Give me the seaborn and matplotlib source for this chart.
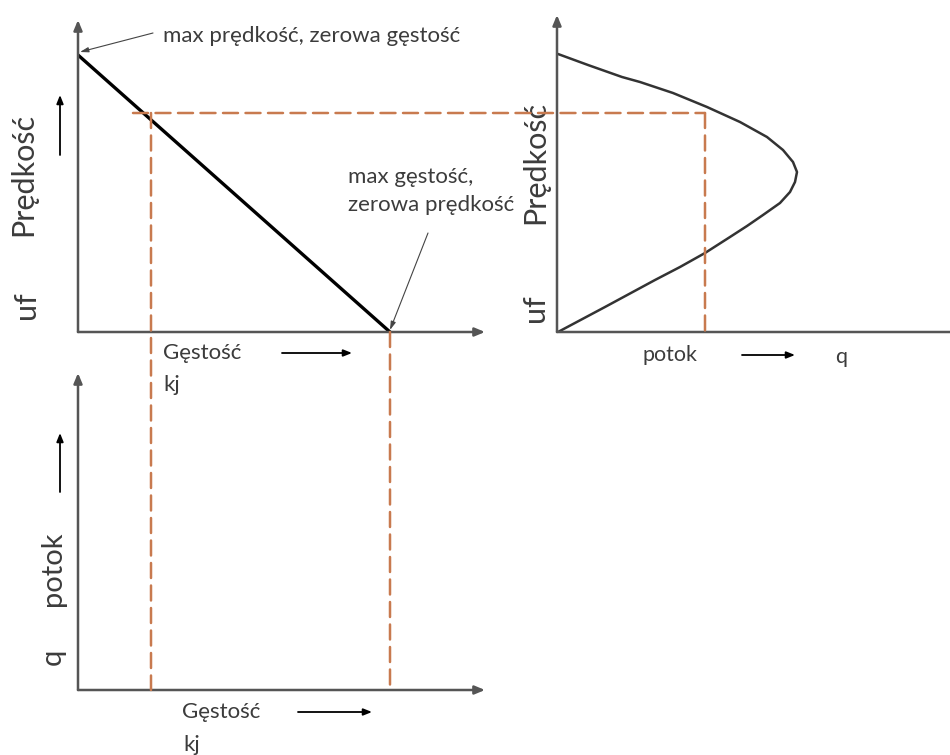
import numpy
import pandas
import seaborn as sns
import matplotlib.pyplot as plt
from matplotlib.patches import ConnectionPatch
#------------------------------

#values (pixel units from each origin)
uf = 277          #max speed
kj = 312          #jam density
k0 = 73           #density of the dashed operating point
v0 = 219          #speed of the dashed operating point
q0 = 148          #flow of the dashed operating point

#speed - density line
density_pts = [0, kj]
speed_pts = [uf, 0]

#speed - flow curve (top branch then bottom branch)
flow_curve = [1, 31, 65, 83, 116, 150, 183, 210, 226, 236, 240,
              238, 233, 223, 206, 190, 173, 148, 123, 98, 48, 1]
speed_curve = [278, 267, 255, 250, 239, 225, 210, 195, 182, 170, 160,
               150, 140, 129, 117, 106, 95, 79, 65, 52, 25, 0]

#texts
lab_speed = "Prędkość"
lab_density = "Gęstość"
lab_flow = "potok"
note_top = "max prędkość, zerowa gęstość"
note_right = "max gęstość,\nzerowa prędkość"

#style
sns.set_style("white")
plt.rcParams["font.family"] = ["Lato", "DejaVu Sans"]
txt_col = "#3c3c3c"
axis_col = "#555555"
dash_col = "#c87a4f"
dash_style = (0, (6, 3))

W, H = 950, 755
fig = plt.figure(figsize=(9.5, 7.55), dpi=100)

def make_axes(x0, y0, w, h):
    ax = fig.add_axes([x0 / W, (H - y0) / H, w / W, h / H])
    ax.set_xlim(0, w)
    ax.set_ylim(0, h)
    ax.axis("off")
    #arrow axes
    ax.annotate("", xy=(1, 0), xytext=(0, 0), xycoords="axes fraction",
                arrowprops=dict(arrowstyle="-|>,head_length=0.6,head_width=0.25",
                                color=axis_col, lw=1.8, shrinkA=0, shrinkB=0),
                annotation_clip=False)
    ax.annotate("", xy=(0, 1), xytext=(0, 0), xycoords="axes fraction",
                arrowprops=dict(arrowstyle="-|>,head_length=0.6,head_width=0.25",
                                color=axis_col, lw=1.8, shrinkA=0, shrinkB=0),
                annotation_clip=False)
    return ax

def small_arrow(ax, xy, xytext):
    ax.annotate("", xy=xy, xytext=xytext, xycoords="data",
                arrowprops=dict(arrowstyle="-|>,head_length=0.5,head_width=0.2",
                                color="black", lw=1.3, shrinkA=0, shrinkB=0),
                annotation_clip=False)

ax1 = make_axes(78, 332, 407, 312)
ax2 = make_axes(557, 332, 425, 317)
ax3 = make_axes(78, 690, 407, 317)

#line speed-density
df_line = pandas.DataFrame({"k": density_pts, "v": speed_pts})
sns.lineplot(data=df_line, x="k", y="v", ax=ax1, color="black", lw=2.4,
             estimator=None, sort=False)

#curve speed-flow
df_curve = pandas.DataFrame({"q": flow_curve, "v": speed_curve})
sns.lineplot(data=df_curve, x="q", y="v", ax=ax2, color="#333333", lw=1.8,
             estimator=None, sort=False)
ax1.set_xlim(0, 407); ax1.set_ylim(0, 312)
ax2.set_xlim(0, 425); ax2.set_ylim(0, 317)
ax1.axis("off"); ax2.axis("off")

#dashed guide lines
for a, b, ca, cb in [((k0 - 18, v0), (q0, v0), ax1, ax2),
                     ((q0, v0), (q0, 0), ax2, ax2),
                     ((k0, v0), (k0, 0), ax1, ax3),
                     ((kj, 0), (kj, 0), ax1, ax3)]:
    con = ConnectionPatch(xyA=a, coordsA=ca.transData, xyB=b, coordsB=cb.transData,
                          color=dash_col, lw=1.8, linestyle=dash_style)
    fig.add_artist(con)

#top left labels
ax1.text(-55, 157, lab_speed, rotation=90, ha="center", va="center", fontsize=22, color=txt_col)
ax1.text(-52, 27, "uf", rotation=90, ha="center", va="center", fontsize=22, color=txt_col)
small_arrow(ax1, (-18, 237), (-18, 177))
ax1.text(85, -21, lab_density, ha="left", va="center", fontsize=16, color=txt_col)
small_arrow(ax1, (274, -21), (204, -21))
ax1.text(85, -53, "kj", ha="left", va="center", fontsize=16, color=txt_col)

#notes with arrows
ax1.text(85, 296, note_top, ha="left", va="center", fontsize=16, color=txt_col)
ax1.annotate("", xy=(2, 280), xytext=(75, 299),
             arrowprops=dict(arrowstyle="-|>,head_length=0.5,head_width=0.15",
                             color="#444444", lw=0.8, shrinkA=0, shrinkB=0),
             annotation_clip=False)
ax1.text(270, 141, note_right, ha="left", va="center", fontsize=16, color=txt_col,
         linespacing=1.45)
ax1.annotate("", xy=(312, 2), xytext=(350, 99),
             arrowprops=dict(arrowstyle="-|>,head_length=0.5,head_width=0.15",
                             color="#444444", lw=0.8, shrinkA=0, shrinkB=0),
             annotation_clip=False)

#right labels
ax2.text(-22, 169, lab_speed, rotation=90, ha="center", va="center", fontsize=22, color=txt_col)
ax2.text(-22, 24, "uf", rotation=90, ha="center", va="center", fontsize=22, color=txt_col)
ax2.text(113, -23, lab_flow, ha="center", va="center", fontsize=15.5, color=txt_col)
small_arrow(ax2, (238, -23), (185, -23))
ax2.text(284, -25, "q", ha="center", va="center", fontsize=15.5, color=txt_col)

#bottom labels
ax3.text(-25, 121, lab_flow, rotation=90, ha="center", va="center", fontsize=21, color=txt_col)
ax3.text(-25, 33, "q", rotation=90, ha="center", va="center", fontsize=21, color=txt_col)
small_arrow(ax3, (-18, 257), (-18, 198))
ax3.text(104, -22, lab_density, ha="left", va="center", fontsize=16, color=txt_col)
small_arrow(ax3, (294, -22), (220, -22))
ax3.text(105, -55, "kj", ha="left", va="center", fontsize=16, color=txt_col)

fig.savefig("out.png", dpi=100)
